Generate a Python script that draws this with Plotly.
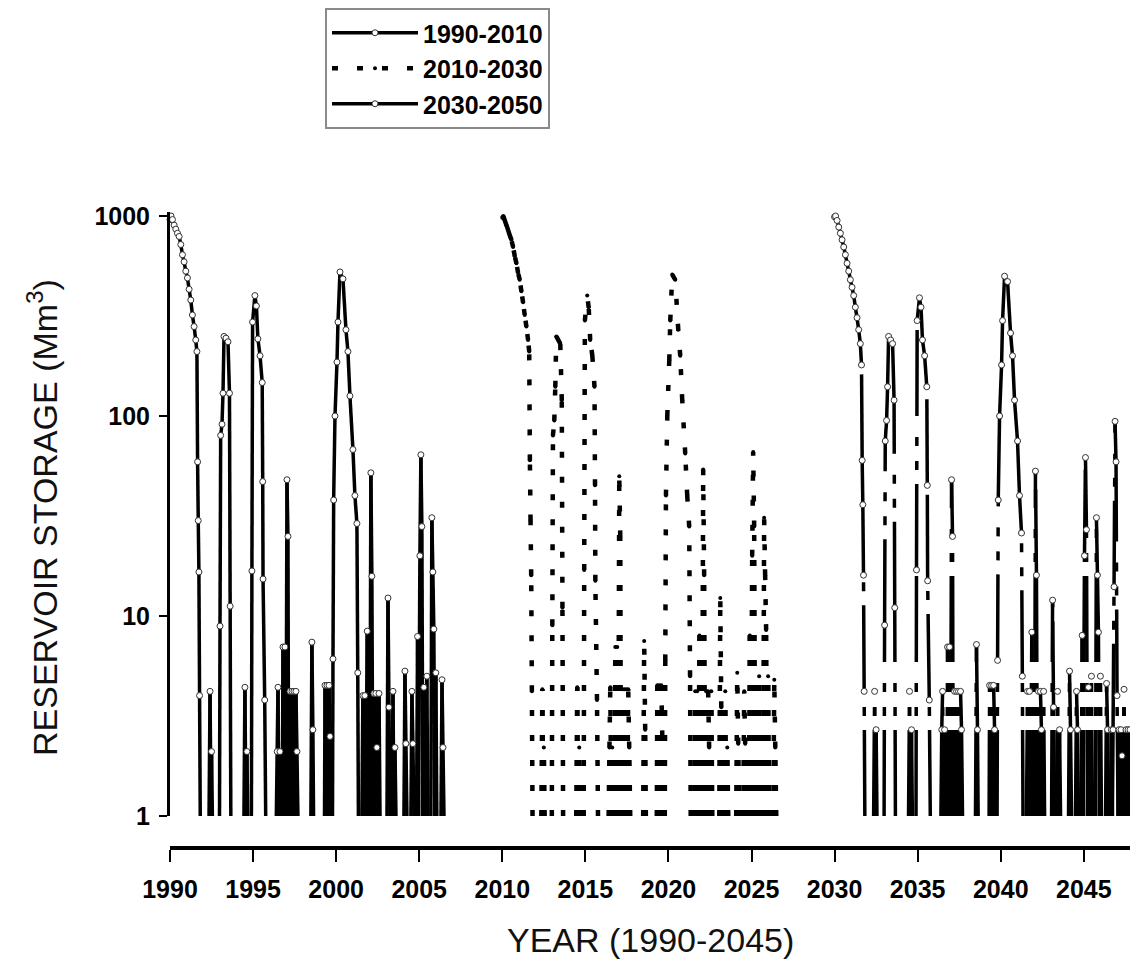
import plotly.graph_objects as go

# ---------------- data ----------------
SERIES_NAMES = ["1990-2010", "2010-2030", "2030-2050"]

S1_YEAR = [
    1990.00, 1990.06, 1990.15, 1990.25, 1990.35, 1990.45, 1990.55, 1990.65, 1990.75, 1990.85, 1990.95,
    1991.05, 1991.15, 1991.25, 1991.35, 1991.45, 1991.55, 1991.62, 1991.66, 1991.70, 1991.74, 1991.78, 1991.82,
    1992.35, 1992.41, 1992.47, 1992.50, 1992.55,
    1992.98, 1993.01, 1993.05, 1993.13, 1993.19, 1993.25, 1993.37, 1993.49, 1993.58, 1993.62, 1993.66,
    1994.45, 1994.51, 1994.57, 1994.63, 1994.68,
    1994.90, 1994.93, 1994.97, 1995.11, 1995.20, 1995.29, 1995.42, 1995.55, 1995.58, 1995.60, 1995.70, 1995.76,
    1996.40, 1996.45, 1996.50, 1996.56, 1996.62, 1996.66,
    1996.76, 1996.80, 1996.86, 1996.92, 1996.98, 1997.04, 1997.10, 1997.14, 1997.22, 1997.28, 1997.34,
    1997.40, 1997.46, 1997.52, 1997.58, 1997.64, 1997.70,
    1998.48, 1998.54, 1998.60, 1998.64,
    1999.30, 1999.33, 1999.39, 1999.45, 1999.51, 1999.57, 1999.63, 1999.69, 1999.78, 1999.81, 1999.85,
    1999.93, 2000.05, 2000.11, 2000.23, 2000.41, 2000.59, 2000.71, 2000.83, 2001.01, 2001.13, 2001.25,
    2001.30, 2001.34,
    2001.55, 2001.61, 2001.67, 2001.73, 2001.79, 2001.87, 2001.93, 2002.03, 2002.09, 2002.15, 2002.21,
    2002.27, 2002.33, 2002.39, 2002.45, 2002.52, 2002.58, 2002.64,
    2003.06, 2003.12, 2003.18, 2003.24, 2003.36, 2003.42, 2003.48, 2003.54, 2003.60,
    2004.08, 2004.14, 2004.20, 2004.26, 2004.50, 2004.56, 2004.62, 2004.68,
    2004.84, 2004.90, 2004.96, 2005.04, 2005.10, 2005.16, 2005.22, 2005.28, 2005.34, 2005.46, 2005.52,
    2005.70, 2005.76, 2005.82, 2005.88, 2005.94, 2006.00, 2006.06,
    2006.31, 2006.37, 2006.43, 2006.49,
]
S1_STORAGE = [
    960, 1000, 960, 900, 860, 820, 790, 720, 640, 590, 530,
    490, 430, 380, 320, 280, 240, 210, 59, 30, 16.6, 4.0, 0,
    0, 4.2, 0, 2.1, 0,
    0, 8.9, 80, 91, 130, 250, 245, 235, 130, 11.2, 0,
    0, 4.4, 0, 2.1, 0,
    0, 16.8, 295, 400, 355, 243, 200, 147, 47, 15.3, 3.8, 0,
    0, 2.1, 4.4, 0, 2.1, 0,
    0, 7.0, 0, 7.0, 0, 48, 25, 0, 4.2, 0, 4.2,
    0, 4.2, 0, 4.2, 2.1, 0,
    0, 7.4, 2.7, 0,
    0, 4.5, 0, 4.5, 0, 4.5, 2.5, 0, 0, 6.1, 38,
    100, 186, 295, 525, 485, 270, 210, 126, 68, 40, 29,
    5.2, 0,
    0, 4.0, 0, 4.0, 0, 8.4, 0, 0, 52, 15.8, 0,
    4.1, 0, 4.1, 2.2, 0, 4.1, 0,
    0, 12.3, 3.5, 0, 0, 4.2, 0, 2.2, 0,
    0, 5.3, 2.3, 0, 0, 4.2, 2.3, 0,
    0, 7.9, 0, 20, 64, 28, 0, 4.4, 0, 5.0, 0,
    0, 31, 16.6, 8.6, 0, 5.2, 0,
    0, 4.8, 2.2, 0,
]

S2_YEAR = [
    2010.00, 2010.06, 2010.15, 2010.25, 2010.35, 2010.45, 2010.55, 2010.65, 2010.75, 2010.85, 2010.95,
    2011.05, 2011.15, 2011.25, 2011.35, 2011.45, 2011.55, 2011.62, 2011.66, 2011.70, 2011.74, 2011.78, 2011.82,
    2012.35, 2012.41, 2012.47, 2012.50, 2012.55,
    2012.98, 2013.01, 2013.05, 2013.13, 2013.19, 2013.25, 2013.37, 2013.49, 2013.58, 2013.62, 2013.66,
    2014.45, 2014.51, 2014.57, 2014.63, 2014.68,
    2014.90, 2014.93, 2014.97, 2015.11, 2015.20, 2015.29, 2015.42, 2015.55, 2015.58, 2015.60, 2015.70, 2015.76,
    2016.40, 2016.45, 2016.50, 2016.56, 2016.62, 2016.66,
    2016.76, 2016.80, 2016.86, 2016.92, 2016.98, 2017.04, 2017.10, 2017.14, 2017.22, 2017.28, 2017.34,
    2017.40, 2017.46, 2017.52, 2017.58, 2017.64, 2017.70,
    2018.48, 2018.54, 2018.60, 2018.64,
    2019.30, 2019.33, 2019.39, 2019.45, 2019.51, 2019.57, 2019.63, 2019.69, 2019.78, 2019.81, 2019.85,
    2019.93, 2020.05, 2020.11, 2020.23, 2020.41, 2020.59, 2020.71, 2020.83, 2021.01, 2021.13, 2021.25,
    2021.30, 2021.34,
    2021.55, 2021.61, 2021.67, 2021.73, 2021.79, 2021.87, 2021.93, 2022.03, 2022.09, 2022.15, 2022.21,
    2022.27, 2022.33, 2022.39, 2022.45, 2022.52, 2022.58, 2022.64,
    2023.06, 2023.12, 2023.18, 2023.24, 2023.36, 2023.42, 2023.48, 2023.54, 2023.60,
    2024.08, 2024.14, 2024.20, 2024.26, 2024.50, 2024.56, 2024.62, 2024.68,
    2024.84, 2024.90, 2024.96, 2025.04, 2025.10, 2025.16, 2025.22, 2025.28, 2025.34, 2025.46, 2025.52,
    2025.70, 2025.76, 2025.82, 2025.88, 2025.94, 2026.00, 2026.06,
    2026.31, 2026.37, 2026.43, 2026.49,
]
S2_STORAGE = [
    980, 1000, 950, 900, 850, 800, 760, 700, 630, 580, 520,
    480, 420, 370, 320, 280, 240, 210, 60, 30, 16, 4.2, 0,
    0, 4.3, 0, 2.2, 0,
    0, 9.0, 80, 95, 140, 250, 240, 230, 120, 11, 0,
    0, 4.4, 0, 2.2, 0,
    0, 17, 300, 400, 350, 240, 200, 140, 45, 15, 3.8, 0,
    0, 2.2, 4.4, 0, 2.2, 0,
    0, 7.0, 0, 7.0, 0, 50, 25, 0, 4.3, 0, 4.3,
    0, 4.3, 0, 4.3, 2.2, 0,
    0, 7.5, 2.7, 0,
    0, 4.5, 0, 4.5, 0, 4.5, 2.5, 0, 0, 6.0, 40,
    100, 190, 300, 510, 480, 270, 200, 120, 65, 40, 28,
    5.0, 0,
    0, 4.2, 0, 4.2, 0, 8.0, 0, 0, 54, 16, 0,
    4.2, 0, 4.2, 2.2, 0, 4.2, 0,
    0, 12.3, 3.5, 0, 0, 4.2, 0, 2.2, 0,
    0, 5.2, 2.3, 0, 0, 4.2, 2.3, 0,
    0, 8.0, 0, 20, 66, 28, 0, 4.4, 0, 5.0, 0,
    0, 31, 16, 8.5, 0, 5.0, 0,
    0, 4.8, 2.2, 0,
]

S3_YEAR = [
    2030.00, 2030.06, 2030.15, 2030.25, 2030.35, 2030.45, 2030.55, 2030.65, 2030.75, 2030.85, 2030.95,
    2031.05, 2031.15, 2031.25, 2031.35, 2031.45, 2031.55, 2031.62, 2031.66, 2031.70, 2031.74, 2031.78, 2031.82,
    2032.35, 2032.41, 2032.47, 2032.50, 2032.55,
    2032.98, 2033.01, 2033.05, 2033.13, 2033.19, 2033.25, 2033.37, 2033.49, 2033.58, 2033.62, 2033.66,
    2034.45, 2034.51, 2034.57, 2034.63, 2034.68,
    2034.90, 2034.93, 2034.97, 2035.11, 2035.20, 2035.29, 2035.42, 2035.55, 2035.58, 2035.60, 2035.70, 2035.76,
    2036.40, 2036.45, 2036.50, 2036.56, 2036.62, 2036.66,
    2036.76, 2036.80, 2036.86, 2036.92, 2036.98, 2037.04, 2037.10, 2037.14, 2037.22, 2037.28, 2037.34,
    2037.40, 2037.46, 2037.52, 2037.58, 2037.64, 2037.70,
    2038.48, 2038.54, 2038.60, 2038.64,
    2039.30, 2039.33, 2039.39, 2039.45, 2039.51, 2039.57, 2039.63, 2039.69, 2039.78, 2039.81, 2039.85,
    2039.93, 2040.05, 2040.11, 2040.23, 2040.41, 2040.59, 2040.71, 2040.83, 2041.01, 2041.13, 2041.25,
    2041.30, 2041.34,
    2041.55, 2041.61, 2041.67, 2041.73, 2041.79, 2041.87, 2041.93, 2042.03, 2042.09, 2042.15, 2042.21,
    2042.27, 2042.33, 2042.39, 2042.45, 2042.52, 2042.58, 2042.64,
    2043.06, 2043.12, 2043.18, 2043.24, 2043.36, 2043.42, 2043.48, 2043.54, 2043.60,
    2044.08, 2044.14, 2044.20, 2044.26, 2044.50, 2044.56, 2044.62, 2044.68,
    2044.84, 2044.90, 2044.96, 2045.04, 2045.10, 2045.16, 2045.22, 2045.28, 2045.34, 2045.46, 2045.52,
    2045.70, 2045.76, 2045.82, 2045.88, 2045.94, 2046.00, 2046.06,
    2046.31, 2046.37, 2046.43, 2046.49,
    2046.60, 2046.66, 2046.72, 2046.76, 2046.82, 2046.88, 2046.94, 2047.00, 2047.06, 2047.12, 2047.18,
    2047.24, 2047.30, 2047.36, 2047.42, 2047.48, 2047.54, 2047.60, 2047.66, 2047.72, 2047.78, 2047.84,
]
S3_STORAGE = [
    990, 1000, 950, 880, 820, 760, 700, 640, 580, 530, 480,
    440, 400, 350, 310, 270, 230, 180, 60, 36, 16, 4.2, 0,
    0, 4.2, 0, 2.7, 0,
    0, 9.0, 75, 95, 140, 250, 240, 230, 120, 11, 0,
    0, 4.2, 0, 2.7, 0,
    0, 17, 300, 390, 350, 240, 200, 140, 45, 15, 3.8, 0,
    0, 2.7, 4.2, 0, 2.7, 0,
    0, 7.0, 0, 7.0, 0, 48, 25, 0, 4.2, 0, 4.2,
    0, 4.2, 0, 4.2, 2.7, 0,
    0, 7.2, 2.7, 0,
    0, 4.5, 0, 4.5, 0, 4.5, 2.7, 0, 0, 6.0, 38,
    100, 180, 300, 500, 470, 260, 200, 120, 75, 40, 26,
    5.0, 0,
    0, 4.2, 0, 4.2, 0, 8.3, 0, 0, 53, 16, 0,
    4.2, 0, 4.2, 2.7, 0, 4.2, 0,
    0, 12.0, 3.5, 0, 0, 4.2, 0, 2.7, 0,
    0, 5.3, 2.7, 0, 0, 4.2, 2.7, 0,
    0, 8.0, 0, 20, 62, 27, 0, 4.4, 0, 5.0, 0,
    0, 31, 16, 8.3, 0, 5.0, 0,
    0, 4.6, 2.7, 0,
    0, 2.7, 0, 2.7, 14, 94, 59, 4.0, 0, 2.7, 0,
    2.7, 2.0, 0, 4.3, 0, 2.7, 0, 2.7, 0, 2.7, 0,
]

X_TICKS = [1990, 1995, 2000, 2005, 2010, 2015, 2020, 2025, 2030, 2035, 2040, 2045]
Y_TICKS = [1, 10, 100, 1000]
Y_TICK_LABELS = ["1", "10", "100", "1000"]
X_RANGE = [1990, 2047.78]
Y_LOG_RANGE = [0, 3.02]
AXIS_FLOOR = 1.0          # values below the axis minimum are drawn from the axis bottom

# ---------------- styling ----------------
INK = "#000000"
FONT = "Liberation Sans"
LINE_STYLES = [
    dict(color=INK, width=3.5, dash="solid"),
    dict(color=INK, width=4.5, dash="6px,19px"),
    dict(color=INK, width=3.5, dash="86px,14px,9px,15px,9px,21px"),
]
MARKER_STYLES = [
    dict(symbol="circle", size=6, color="white", line=dict(color="#333333", width=1)),
    dict(symbol="circle", size=4, color=INK, line=dict(color=INK, width=0)),
    dict(symbol="circle", size=6, color="white", line=dict(color="#333333", width=1)),
]


def segments(years, values):
    """Split a series into single segments, each drawn from its lower end
    (so dash patterns start at the same level, as in the original plot)."""
    xs, ys = [], []
    for i in range(len(years) - 1):
        a = (years[i], max(values[i], AXIS_FLOOR))
        b = (years[i + 1], max(values[i + 1], AXIS_FLOOR))
        if a[1] <= AXIS_FLOOR and b[1] <= AXIS_FLOOR:
            continue
        lo, hi = (a, b) if a[1] <= b[1] else (b, a)
        xs += [lo[0], hi[0], None]
        ys += [lo[1], hi[1], None]
    return xs, ys


fig = go.Figure()
series = [(S1_YEAR, S1_STORAGE), (S2_YEAR, S2_STORAGE), (S3_YEAR, S3_STORAGE)]
for k, (yrs, vals) in enumerate(series):
    sx, sy = segments(yrs, vals)
    fig.add_trace(go.Scatter(
        x=sx, y=sy, mode="lines", line=LINE_STYLES[k],
        connectgaps=False, showlegend=False, hoverinfo="skip",
        legendgroup=SERIES_NAMES[k],
    ))
    mx = [x for x, v in zip(yrs, vals) if v >= AXIS_FLOOR]
    my = [v for v in vals if v >= AXIS_FLOOR]
    fig.add_trace(go.Scatter(
        x=mx, y=my, mode="markers", marker=MARKER_STYLES[k],
        cliponaxis=False, showlegend=False, legendgroup=SERIES_NAMES[k],
    ))

# legend entries (line + marker symbol)
for k, name in enumerate(SERIES_NAMES):
    fig.add_trace(go.Scatter(
        x=[None], y=[None], mode="lines+markers", name=name,
        line=LINE_STYLES[k], marker=MARKER_STYLES[k], legendgroup=name,
    ))

W, H = 1130, 972
PLOT_L, PLOT_R, PLOT_T, PLOT_B = 170, 1130, 212, 848
plot_h = PLOT_B - PLOT_T
y_dom0 = 32 / plot_h


def px_to_paper_x(px):
    return (px - PLOT_L) / (PLOT_R - PLOT_L)


def px_to_paper_y(py):
    return (PLOT_B - py) / plot_h


tick_font = dict(family=FONT, size=25, color=INK, weight="bold")

fig.update_layout(
    width=W, height=H,
    margin=dict(l=PLOT_L, r=W - PLOT_R, t=PLOT_T, b=H - PLOT_B, pad=0),
    paper_bgcolor="white", plot_bgcolor="white",
    showlegend=True,
    legend=dict(
        x=px_to_paper_x(325), y=px_to_paper_y(8), xanchor="left", yanchor="top",
        bordercolor="#8a8a8a", borderwidth=2, bgcolor="white",
        font=dict(family=FONT, size=25, color=INK, weight="bold"),
        itemwidth=86, traceorder="normal",
    ),
    xaxis=dict(
        range=X_RANGE, anchor="free", position=0,
        showline=True, linewidth=4, linecolor=INK, mirror=False,
        ticks="outside", ticklen=12, tickwidth=1.5, tickcolor=INK,
        tickvals=X_TICKS, ticktext=[str(t) for t in X_TICKS],
        tickfont=tick_font, ticklabelstandoff=6,
        showgrid=False, zeroline=False,
    ),
    yaxis=dict(
        type="log", range=Y_LOG_RANGE, domain=[y_dom0, 1],
        showline=True, linewidth=3, linecolor=INK,
        ticks="outside", ticklen=8, tickwidth=1.5, tickcolor=INK,
        tickvals=Y_TICKS, ticktext=Y_TICK_LABELS,
        tickfont=tick_font, ticklabelstandoff=4,
        showgrid=False, zeroline=False,
    ),
    annotations=[
        dict(text="YEAR (1990-2045)", xref="paper", yref="paper",
             x=px_to_paper_x(650), y=px_to_paper_y(940), xanchor="center", yanchor="middle",
             showarrow=False, font=dict(family=FONT, size=34, color="#111111")),
        dict(text="RESERVOIR STORAGE (Mm<sup>3</sup>)", xref="paper", yref="paper",
             x=px_to_paper_x(42), y=px_to_paper_y(518), xanchor="center", yanchor="middle",
             textangle=-90, showarrow=False, font=dict(family=FONT, size=34, color="#111111")),
    ],
)

fig.write_html("out.html")
